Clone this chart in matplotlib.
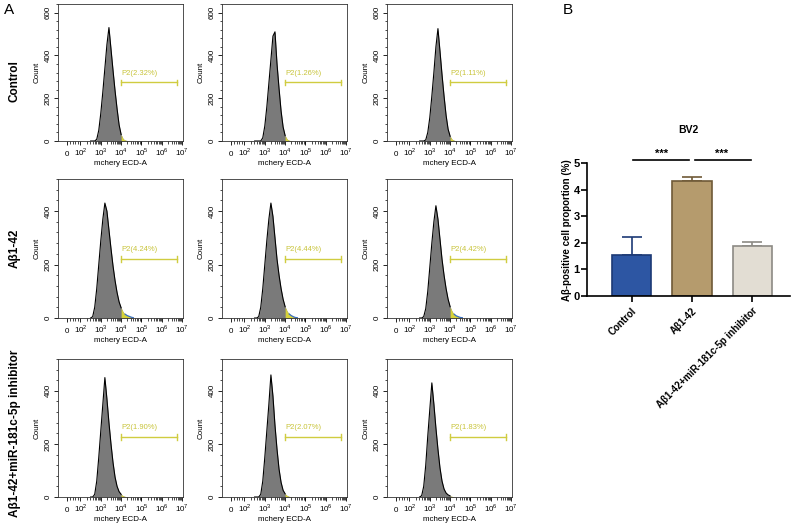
import numpy as np
import matplotlib
matplotlib.use('Agg')
import matplotlib.pyplot as plt
from matplotlib.ticker import AutoMinorLocator, FixedLocator

plt.rcParams['font.family'] = ['Liberation Sans', 'DejaVu Sans']
plt.rcParams['mathtext.fontset'] = 'custom'
plt.rcParams['mathtext.rm'] = 'Liberation Sans'

## 流式直方图数据（log10 荧光强度 vs 计数）
log_bins = [2.5, 2.6, 2.7, 2.8, 2.9, 3.0, 3.1, 3.2, 3.3, 3.4, 3.5,
            3.6, 3.7, 3.8, 3.9, 4.0, 4.1, 4.2, 4.3, 4.4, 4.5, 4.6]

counts_control_1 = [0, 0, 0, 8, 50, 130, 230, 340, 450, 530, 430,
                    330, 235, 150, 75, 30, 10, 4, 2, 1, 0, 0]
counts_control_2 = [0, 0, 0, 0, 15, 70, 160, 270, 380, 490, 510,
                    360, 245, 140, 65, 25, 8, 3, 1, 0, 0, 0]
counts_control_3 = [0, 0, 0, 5, 40, 110, 210, 320, 440, 525, 420,
                    310, 210, 120, 55, 22, 7, 3, 1, 0, 0, 0]

counts_abeta_1 = [0, 5, 40, 110, 200, 290, 370, 430, 400, 330, 260,
                  195, 140, 95, 60, 38, 22, 14, 9, 6, 3, 1]
counts_abeta_2 = [0, 0, 5, 40, 110, 200, 290, 370, 430, 380, 300,
                  220, 160, 110, 70, 42, 25, 15, 9, 5, 2, 1]
counts_abeta_3 = [0, 0, 5, 35, 100, 190, 280, 360, 420, 370, 295,
                  220, 160, 110, 70, 42, 24, 14, 8, 5, 2, 1]

counts_inhib_1 = [0, 0, 10, 60, 150, 250, 350, 450, 370, 280, 200,
                  130, 75, 40, 20, 10, 4, 2, 1, 0, 0, 0]
counts_inhib_2 = [0, 0, 0, 10, 60, 150, 250, 350, 460, 380, 270,
                  180, 105, 55, 25, 12, 5, 2, 1, 0, 0, 0]
counts_inhib_3 = [0, 5, 40, 120, 230, 330, 430, 350, 260, 180, 110,
                  60, 30, 15, 8, 4, 2, 1, 0, 0, 0, 0]

hist_counts = [[counts_control_1, counts_control_2, counts_control_3],
               [counts_abeta_1, counts_abeta_2, counts_abeta_3],
               [counts_inhib_1, counts_inhib_2, counts_inhib_3]]
gate_labels = [['P2(2.32%)', 'P2(1.26%)', 'P2(1.11%)'],
               ['P2(4.24%)', 'P2(4.44%)', 'P2(4.42%)'],
               ['P2(1.90%)', 'P2(2.07%)', 'P2(1.83%)']]
gate_heights = [275, 220, 225]
row_ymax = [640, 520, 520]
row_yticks = [[0, 200, 400, 600], [0, 200, 400], [0, 200, 400]]
row_names = ['Control', 'Aβ1-42', 'Aβ1-42+miR-181c-5p inhibitor']

## 柱状图数据
groups = ['Control', 'Aβ1-42', 'Aβ1-42+miR-181c-5p inhibitor']
means = [1.55, 4.35, 1.90]
errs = [0.66, 0.14, 0.15]

W, H = 793, 524
fig = plt.figure(figsize=(W / 100, H / 100), dpi=100)

def px_axes(left, top, width, height):
    return fig.add_axes([left / W, 1 - (top + height) / H, width / W, height / H])

col_left = [58, 222, 387]
row_top = [4, 179, 359]
row_h = [137, 139, 138]
gate_start, gate_end = 10 ** 4.0, 10 ** 6.75

xt = [0, 1e2, 1e3, 1e4, 1e5, 1e6, 1e7]
xt_lab = ['0', '$10^2$', '$10^3$', '$10^4$', '$10^5$', '$10^6$', '$10^7$']
minor_x = [20, 40, 60, 80]
for d in range(2, 7):
    minor_x += [k * 10 ** d for k in range(2, 10)]

for r in range(3):
    for c in range(3):
        ax = px_axes(col_left[c], row_top[r], 125, row_h[r])
        ax.set_xscale('symlog', linthresh=100, linscale=0.585)
        x = 10 ** np.array(log_bins)
        y = np.array(hist_counts[r][c])
        ax.fill_between(x, y, color='#7a7a7a', lw=0)
        ax.fill_between(x, y, where=x >= gate_start, color='#d6d23a', lw=0)
        ax.plot(x[x <= gate_start], y[x <= gate_start], color='black', lw=0.8)
        if r == 1:
            tail = x >= 10 ** 4.2
            ax.plot(x[tail], y[tail], color='#3a6fc0', lw=0.9)
        gy = gate_heights[r]
        ax.plot([gate_start, gate_end], [gy, gy], color='#d0cc40', lw=1.0)
        ax.plot([gate_start, gate_start], [gy - 12, gy + 12], color='#d0cc40', lw=1.0)
        ax.plot([gate_end, gate_end], [gy - 12, gy + 12], color='#d0cc40', lw=1.0)
        ax.text(gate_start, gy + 25, gate_labels[r][c], color='#c8c43a',
                fontsize=5.5, ha='left', va='bottom')
        ax.set_xlim(-70, 1.1e7)
        ax.set_ylim(0, row_ymax[r])
        ax.set_xticks(xt)
        ax.set_xticklabels(xt_lab)
        ax.xaxis.set_minor_locator(FixedLocator(minor_x))
        ax.set_yticks(row_yticks[r])
        ax.yaxis.set_minor_locator(AutoMinorLocator(5))
        ax.tick_params(axis='both', which='major', labelsize=5.8, length=3,
                       width=0.6, pad=1.5)
        ax.tick_params(axis='x', which='major', pad=7.5)
        for lab in ax.get_xticklabels():
            lab.set_va('baseline')
        ax.tick_params(axis='both', which='minor', length=1.8, width=0.5)
        ax.tick_params(axis='y', labelrotation=90)
        for lab in ax.get_yticklabels():
            lab.set_va('center')
        ax.set_xlabel('mchery ECD-A', fontsize=5.8, labelpad=1.5)
        ax.set_ylabel('Count', fontsize=5.8, labelpad=3)
        for sp in ax.spines.values():
            sp.set_linewidth(0.6)
            sp.set_color('#333333')

row_label_y = [81, 248, 433]
for r in range(3):
    fig.text(15 / W, 1 - row_label_y[r] / H, row_names[r], rotation=90,
             fontsize=8.5, fontweight='bold', ha='center', va='center')

fig.text(4 / W, 1 - 10 / H, 'A', fontsize=11, ha='left', va='center')
fig.text(563 / W, 1 - 10 / H, 'B', fontsize=11, ha='left', va='center')

# 柱状图
bx = px_axes(586.7, 163.3, 790 - 586.7, 296 - 163.3)
face = ['#2d56a3', '#b59b6d', '#e2ddd3']
edge = ['#1d3a75', '#6f5a37', '#8c8a84']
pos = np.arange(len(groups))
bx.bar(pos, means, width=0.65, color=face, edgecolor=edge, linewidth=1.2, zorder=2)
for i in range(len(groups)):
    bx.errorbar(pos[i], means[i], yerr=[[0], [errs[i]]], fmt='none',
                ecolor=edge[i], elinewidth=1.2, capsize=7, capthick=1.2, zorder=1)
bx.set_xlim(-0.75, 2.63)
bx.set_ylim(0, 5)
bx.set_yticks(range(6))
bx.set_xticks(pos)
bx.set_xticklabels(groups, rotation=45, ha='right', rotation_mode='anchor',
                   fontweight='bold', fontsize=7)
for lab in bx.get_yticklabels():
    lab.set_fontweight('bold')
bx.tick_params(axis='y', labelsize=8, length=4, width=1.2, pad=1)
bx.tick_params(axis='x', length=4, width=1.2, pad=3)
bx.spines['top'].set_visible(False)
bx.spines['right'].set_visible(False)
bx.spines['left'].set_linewidth(1.2)
bx.spines['bottom'].set_linewidth(1.2)
bx.set_ylabel('Aβ-positive cell proportion (%)', fontsize=7, fontweight='bold', labelpad=1)
bx.set_title('BV2', fontsize=7.5, fontweight='bold', pad=22)

# 显著性标记
sig_y = 5.12
for a, b in [(0, 1), (1, 2)]:
    bx.plot([a + 0.02, b - 0.05] if a == 0 else [a + 0.05, b - 0.02], [sig_y, sig_y],
            color='black', lw=1.2, clip_on=False)
    bx.text((a + b) / 2, sig_y + 0.05, '***', ha='center', va='bottom',
            fontsize=8, fontweight='bold')

fig.savefig('out.png', dpi=100)
